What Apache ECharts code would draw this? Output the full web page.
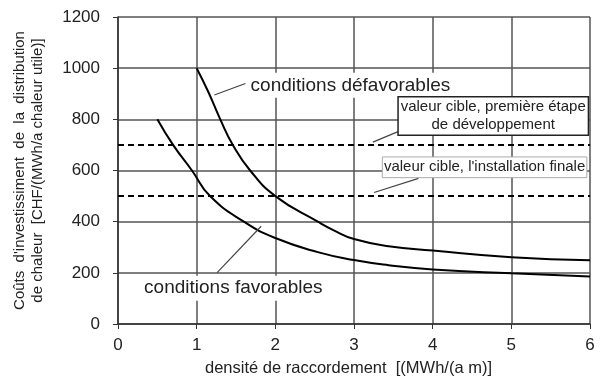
<!DOCTYPE html>
<html>
<head>
<meta charset="utf-8">
<script src="https://cdn.jsdelivr.net/npm/echarts@6/dist/echarts.min.js"></script>
<style>
html, body { margin: 0; padding: 0; background: #fff; }
#main { width: 603px; height: 382px; }
</style>
</head>
<body>
<div id="main"></div>
<script>
// courbes
var defavX = [1, 1.15, 1.3, 1.46, 1.68, 2, 2.54, 2.75, 3, 3.44, 4, 5, 6];
var defavY = [1000, 906, 800, 700, 600, 500, 400, 365, 332, 304, 287, 261, 249];
var favX = [0.5, 0.7, 0.94, 1.17, 1.6, 2, 2.54, 3, 3.44, 4, 5, 6];
var favY = [800, 700, 600, 500, 400, 336, 281, 250, 230, 213, 198, 186];
// valeurs cibles
var cibleY = [700, 500];
var xMin = 0, xMax = 6, xStep = 1;
var yMin = 0, yMax = 1200, yStep = 200;

var FONT = 'Liberation Sans, Arial, sans-serif';

function pairs(xs, ys) {
    return xs.map(function (x, i) { return [x, ys[i]]; });
}

var mycharts = echarts.init(document.getElementById('main'));
var option = {
    animation: false,
    grid: { left: 118, right: 13, top: 17, bottom: 55 },
    xAxis: {
        type: 'value',
        min: xMin, max: xMax, interval: xStep,
        name: 'densité de raccordement  [(MWh/(a m)]',
        nameLocation: 'middle',
        nameGap: 36,
        nameTextStyle: { color: '#222', fontSize: 16.5, fontFamily: FONT, padding: [0, 11, 0, 0] },
        axisLine: { lineStyle: { color: '#333', width: 1.5 } },
        axisTick: { show: true, length: 5, lineStyle: { color: '#333' } },
        axisLabel: { color: '#222', fontSize: 17, fontFamily: FONT, margin: 13 },
        splitLine: { show: true, lineStyle: { color: '#555', width: 1.5 } }
    },
    yAxis: {
        type: 'value',
        min: yMin, max: yMax, interval: yStep,
        name: "Coûts  d'investissiment  de  la  distribution\nde chaleur  [CHF/(MWh/a chaleur utile)]",
        nameLocation: 'middle',
        nameGap: 71,
        nameTextStyle: { color: '#222', fontSize: 15, fontFamily: FONT, lineHeight: 18 },
        axisLine: { show: true, lineStyle: { color: '#333', width: 1.5 } },
        axisTick: { show: true, length: 5, lineStyle: { color: '#333' } },
        axisLabel: { color: '#222', fontSize: 17, fontFamily: FONT, margin: 18,
            formatter: function (v) { return String(v); } },
        splitLine: { show: true, lineStyle: { color: '#555', width: 1.5 } }
    },
    series: [
        {
            name: 'défavorables',
            type: 'line',
            data: pairs(defavX, defavY),
            smooth: 0.5,
            showSymbol: false,
            lineStyle: { color: '#000', width: 2 },
            markLine: {
                silent: true,
                symbol: 'none',
                label: { show: false },
                lineStyle: { color: '#000', width: 2, type: [6, 4] },
                data: cibleY.map(function (v) { return { yAxis: v }; })
            },
            z: 3
        },
        {
            name: 'favorables',
            type: 'line',
            data: pairs(favX, favY),
            smooth: 0.5,
            showSymbol: false,
            lineStyle: { color: '#000', width: 2 },
            z: 3
        }
    ]
};
mycharts.setOption(option);

// annotations placées en coordonnées des données
function px(x, y) { return mycharts.convertToPixel({ gridIndex: 0 }, [x, y]); }

function pointer(a, b) {
    var p = px(a[0], a[1]), q = px(b[0], b[1]);
    return { type: 'line', z: 10, shape: { x1: p[0], y1: p[1], x2: q[0], y2: q[1] },
        style: { stroke: '#444', lineWidth: 1.2 } };
}

function label(txt, at, align, size) {
    var p = px(at[0], at[1]);
    return { type: 'text', z: 11, x: p[0], y: p[1],
        style: { text: txt, font: size + 'px ' + FONT, fill: '#222', align: align,
            verticalAlign: 'middle', backgroundColor: '#fff', padding: [3, 2] } };
}

function box(tl, br, txt, border, lw) {
    var a = px(tl[0], tl[1]), b = px(br[0], br[1]);
    return [
        { type: 'rect', z: 11, shape: { x: a[0], y: a[1], width: b[0] - a[0], height: b[1] - a[1] },
            style: { fill: '#fff', stroke: border, lineWidth: lw } },
        { type: 'text', z: 12, x: (a[0] + b[0]) / 2, y: (a[1] + b[1]) / 2,
            style: { text: txt, font: '15px ' + FONT, fill: '#222', align: 'center',
                verticalAlign: 'middle', lineHeight: 18 } }
    ];
}

var g = [];
g.push(pointer([1.225, 895], [1.62, 940]));
g.push(label('conditions défavorables', [1.66, 933], 'left', 19));
g.push(pointer([1.26, 201], [1.82, 382]));
g.push(label('conditions favorables', [1.466, 140], 'center', 19));
g.push(pointer([3.24, 711], [3.56, 752]));
g = g.concat(box([3.56, 888], [5.98, 738], 'valeur cible, première étape\nde développement', '#222', 1.5));
g.push(pointer([3.255, 514], [3.82, 569]));
g = g.concat(box([3.36, 653], [5.96, 572], "valeur cible, l'installation finale", '#aaa', 1));
mycharts.setOption({ graphic: g });

window.addEventListener('resize', function () {
    mycharts.resize();
});
</script>
</body>
</html>
